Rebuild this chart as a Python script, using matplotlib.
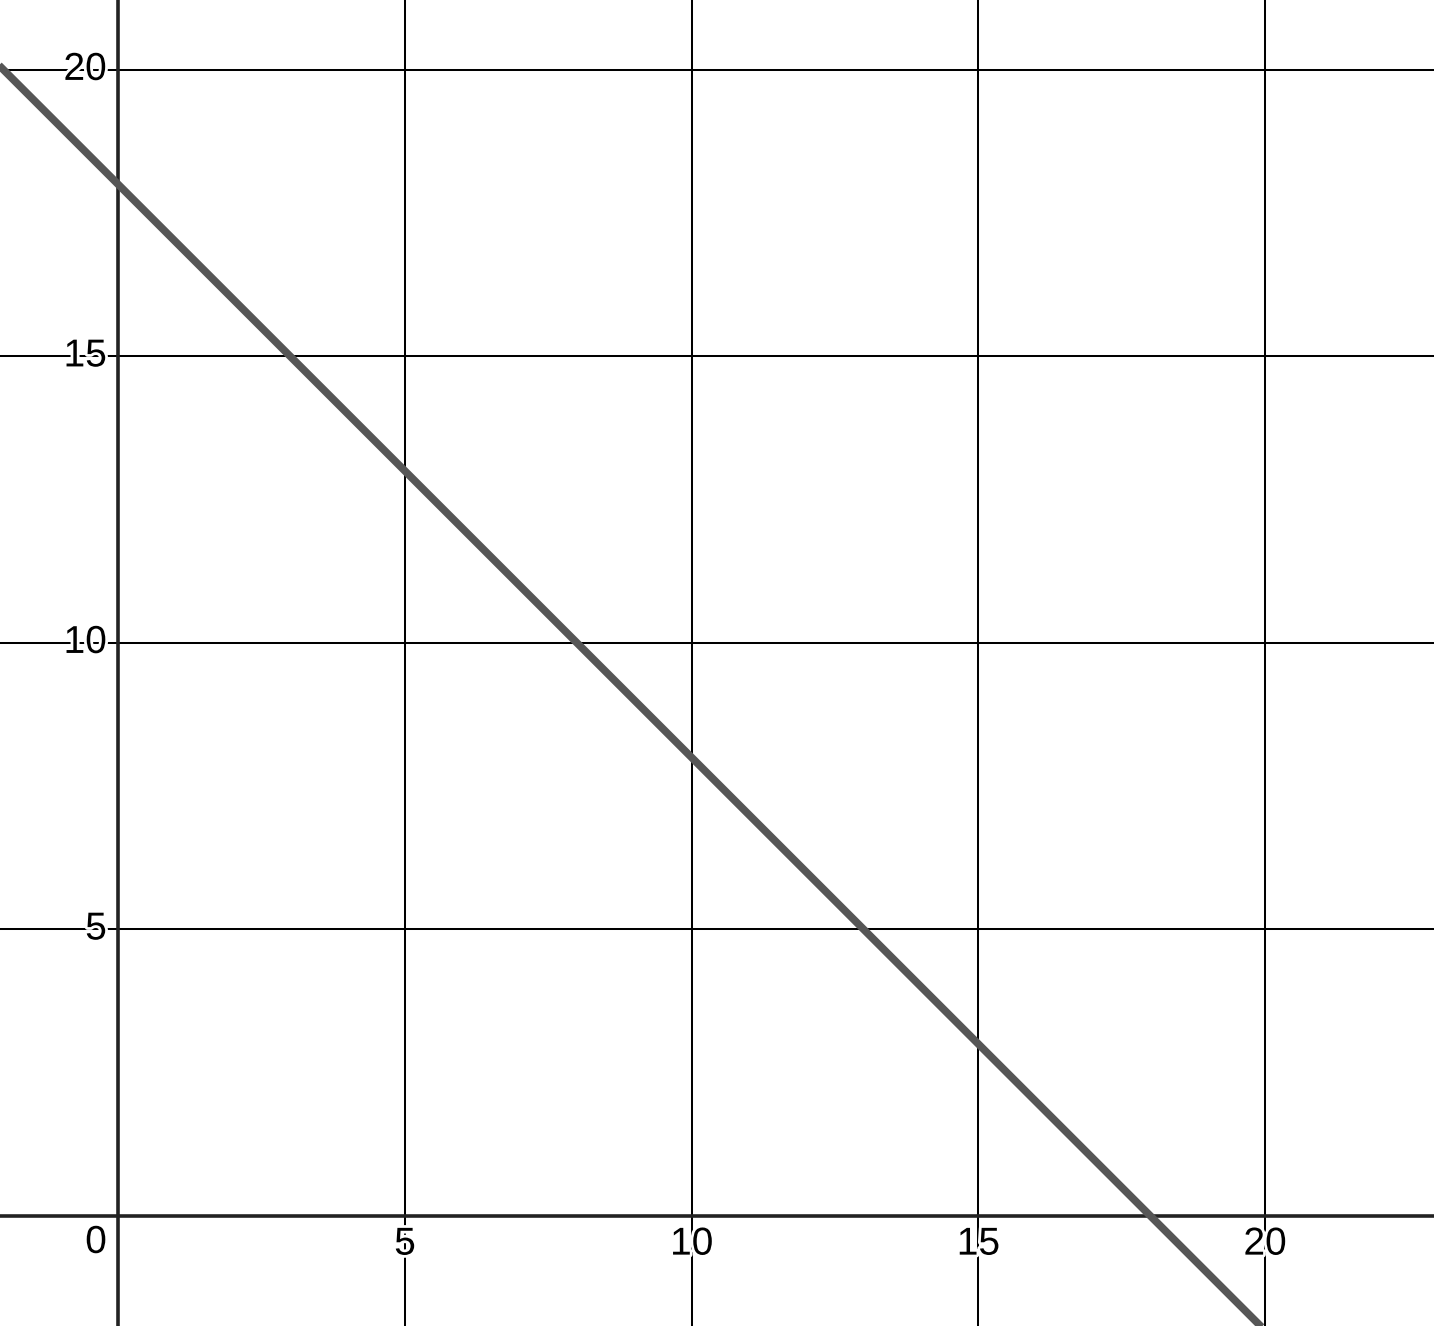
import matplotlib
matplotlib.use("Agg")
import matplotlib.pyplot as plt
import matplotlib.patheffects as pe

# data
line_x = [-2.1, 20.1]
line_y = [20.1, -2.1]
x_ticks = [5, 10, 15, 20]
y_ticks = [5, 10, 15, 20]
x_labels = ["5", "10", "15", "20"]
y_labels = ["5", "10", "15", "20"]

fig = plt.figure(figsize=(14.34, 13.26), dpi=100)
ax = fig.add_axes([0, 0, 1, 1])
ax.set_xlim(-2.063, 22.945)
ax.set_ylim(-1.92, 21.22)
ax.axis("off")

for xt in x_ticks:
    ax.axvline(xt, color="black", lw=1.45, zorder=1)
for yt in y_ticks:
    ax.axhline(yt, color="black", lw=1.45, zorder=1)
ax.axhline(0, color="#222222", lw=2.6, zorder=2)
ax.axvline(0, color="#222222", lw=2.6, zorder=2)

ax.plot(line_x, line_y, color="#565656", lw=5.5, solid_capstyle="butt", zorder=4)

halo = [pe.withStroke(linewidth=4, foreground="white")]
fs = 28
font = "Liberation Sans"
for xt, lab in zip(x_ticks, x_labels):
    ax.text(xt, -0.5, lab, ha="center", va="center", fontsize=fs, family=font,
            path_effects=halo, zorder=3)
for yt, lab in zip(y_ticks, y_labels):
    ax.text(-0.2, yt, lab, ha="right", va="center", fontsize=fs, family=font,
            path_effects=halo, zorder=3)
ax.text(-0.2, -0.47, "0", ha="right", va="center", fontsize=fs, family=font,
        path_effects=halo, zorder=3)

fig.savefig("out.png", dpi=100, facecolor="white")
